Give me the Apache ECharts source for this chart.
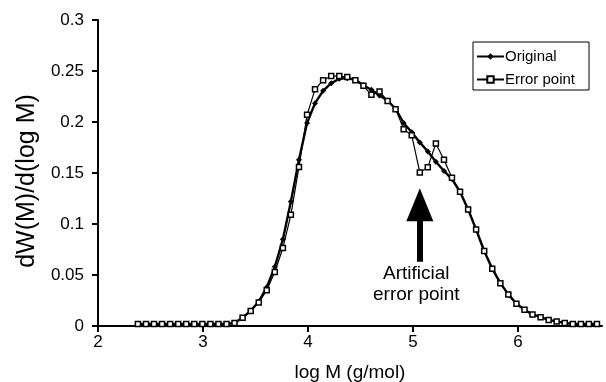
<!DOCTYPE html>
<html>
<head>
<meta charset="utf-8">
<script src="https://cdn.jsdelivr.net/npm/echarts@6/dist/echarts.min.js"></script>
<style>
  html, body { margin: 0; padding: 0; background: #fff; }
  #chart { width: 606px; height: 382px; }
</style>
</head>
<body>
<div id="chart"></div>
<script>
// log M values (g/mol), shared by both curves
const logM = [
  2.380, 2.457, 2.533, 2.610, 2.687, 2.764, 2.840, 2.917, 2.994, 3.070,
  3.147, 3.224, 3.300, 3.377, 3.454, 3.531, 3.607, 3.684, 3.761, 3.837,
  3.914, 3.991, 4.067, 4.144, 4.221, 4.298, 4.374, 4.451, 4.528, 4.604,
  4.681, 4.758, 4.834, 4.911, 4.988, 5.065, 5.141, 5.218, 5.295, 5.371,
  5.448, 5.525, 5.601, 5.678, 5.755, 5.832, 5.908, 5.985, 6.062, 6.138,
  6.215, 6.292, 6.368, 6.445, 6.522, 6.599, 6.675, 6.752
]

const original = [
  0.002, 0.002, 0.002, 0.002, 0.002, 0.002, 0.002, 0.002, 0.002, 0.002,
  0.002, 0.002, 0.003, 0.008, 0.015, 0.024, 0.038, 0.058, 0.085, 0.122,
  0.163, 0.199, 0.2185, 0.2306, 0.238, 0.2424, 0.243, 0.2414, 0.236, 0.2316,
  0.226, 0.221, 0.213, 0.199, 0.190, 0.180, 0.171, 0.161, 0.152, 0.144,
  0.1316, 0.1143, 0.0946, 0.0735, 0.0562, 0.042, 0.031, 0.0218, 0.016, 0.0113,
  0.0087, 0.006, 0.0044, 0.003, 0.002, 0.002, 0.002, 0.002
]

const errorPoint = [
  0.002, 0.002, 0.002, 0.002, 0.002, 0.002, 0.002, 0.002, 0.002, 0.002,
  0.002, 0.002, 0.003, 0.008, 0.0146, 0.023, 0.035, 0.053, 0.0765, 0.109,
  0.156, 0.207, 0.232, 0.241, 0.245, 0.245, 0.244, 0.241, 0.2355, 0.2266,
  0.230, 0.2207, 0.2126, 0.193, 0.187, 0.1506, 0.1556, 0.179, 0.163, 0.1453,
  0.1316, 0.1143, 0.0946, 0.0735, 0.0562, 0.042, 0.031, 0.0218, 0.016, 0.0113,
  0.0087, 0.006, 0.0044, 0.003, 0.002, 0.002, 0.002, 0.002
]

const xTicks = [2, 3, 4, 5, 6]
// arrow annotation: shaft bottom and head position (data coords)
const arrowX = 5.065
const arrowFrom = 0.063
const arrowTo = 0.1188

const font = 'Liberation Sans, Arial, sans-serif'

const chart = echarts.init(document.getElementById('chart'))
chart.setOption({
  animation: false,
  backgroundColor: '#fff',
  textStyle: { fontFamily: font, color: '#000' },
  grid: { left: 98, right: 4, top: 20, bottom: 56, outerBoundsMode: 'none' },
  legend: {
    orient: 'vertical',
    left: 473,
    top: 42,
    padding: [7, 14, 3, 3],
    itemWidth: 27,
    itemHeight: 8,
    itemGap: 8,
    borderColor: '#000',
    borderWidth: 1,
    borderRadius: 0,
    textStyle: { fontFamily: font, fontSize: 15, color: '#000', padding: [0, 0, 0, -4] },
    data: ['Original', 'Error point']
  },
  xAxis: {
    type: 'value',
    min: 2,
    max: 6.8,
    name: 'log M (g/mol)',
    nameLocation: 'middle',
    nameGap: 37,
    nameTextStyle: { fontFamily: font, fontSize: 19, color: '#000' },
    axisLine: { onZero: false, lineStyle: { color: '#000', width: 2 } },
    axisTick: { show: true, length: 6, customValues: xTicks, lineStyle: { color: '#000', width: 2 } },
    axisLabel: { customValues: xTicks, fontSize: 17, color: '#000', margin: 8 },
    splitLine: { show: false }
  },
  yAxis: {
    type: 'value',
    min: 0,
    max: 0.3,
    interval: 0.05,
    name: 'dW(M)/d(log M)',
    nameLocation: 'middle',
    nameRotate: 90,
    nameGap: 51,
    nameTextStyle: { fontFamily: font, fontSize: 25, color: '#000', padding: [0, 16, 0, 0] },
    axisLine: { show: true, lineStyle: { color: '#000', width: 2 } },
    axisTick: { show: true, length: 6, lineStyle: { color: '#000', width: 2 } },
    axisLabel: { fontSize: 17, color: '#000', margin: 14 },
    splitLine: { show: false }
  },
  series: [
    {
      name: 'Original',
      type: 'line',
      data: logM.map((x, i) => [x, original[i]]),
      symbol: 'diamond',
      symbolSize: 6,
      showAllSymbol: true,
      itemStyle: { color: '#000' },
      lineStyle: { color: '#000', width: 2.4 },
      z: 2
    },
    {
      name: 'Error point',
      type: 'line',
      data: logM.map((x, i) => [x, errorPoint[i]]),
      symbol: 'rect',
      symbolSize: 5,
      showAllSymbol: true,
      itemStyle: { color: '#fff', borderColor: '#000', borderWidth: 1.5 },
      lineStyle: { color: '#000', width: 1.2 },
      z: 3,
      markLine: {
        silent: true,
        animation: false,
        label: { show: false },
        lineStyle: { color: '#000', width: 6, type: 'solid' },
        itemStyle: { color: '#000' },
        data: [[
          { coord: [arrowX, arrowFrom], symbol: 'none' },
          { coord: [arrowX, arrowTo], symbol: 'triangle', symbolSize: [27, 33] }
        ]]
      }
    }
  ],
  graphic: [
    {
      type: 'text',
      left: 383,
      top: 264,
      style: { text: 'Artificial', font: '19px ' + font, fill: '#000' }
    },
    {
      type: 'text',
      left: 373,
      top: 285,
      style: { text: 'error point', font: '19px ' + font, fill: '#000' }
    }
  ]
})
</script>
</body>
</html>
